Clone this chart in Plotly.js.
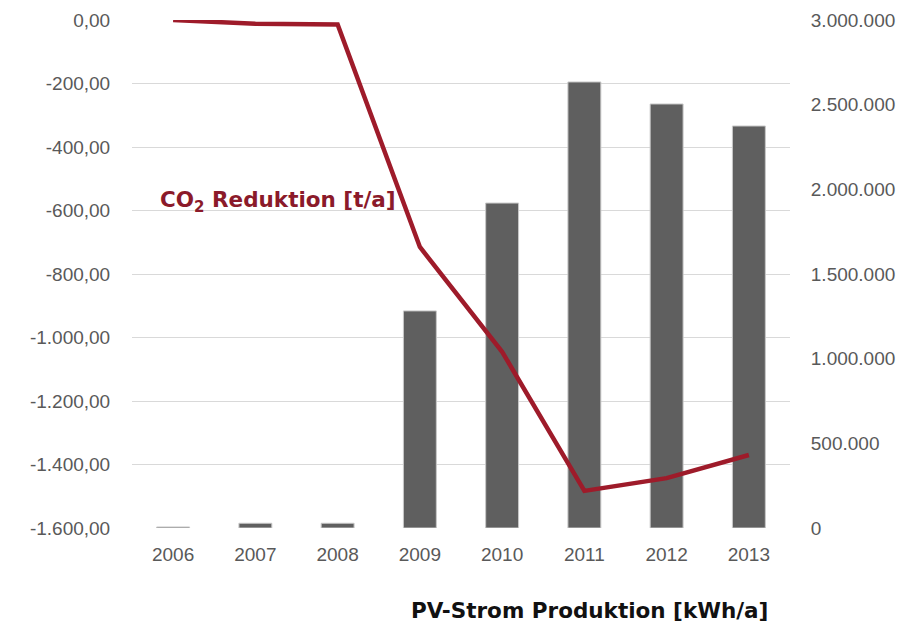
<!DOCTYPE html>
<html>
<head>
<meta charset="utf-8">
<script src="https://cdn.plot.ly/plotly-3.0.1.min.js"></script>
<style>html,body{margin:0;padding:0;background:#fff;}#chart{width:922px;height:628px;}</style>
</head>
<body>
<div id="chart"></div>
<script>
var years = ['2006','2007','2008','2009','2010','2011','2012','2013'];
var pvProduction = [6000, 28000, 28000, 1282000, 1919000, 2634000, 2504000, 2374000];
var co2Reduction = [0, -12, -14, -715, -1045, -1483, -1443, -1370];
var leftTicks = [0, -200, -400, -600, -800, -1000, -1200, -1400, -1600];
var leftTickLabels = ['0,00', '-200,00', '-400,00', '-600,00', '-800,00', '-1.000,00', '-1.200,00', '-1.400,00', '-1.600,00'];
var rightTicks = [0, 500000, 1000000, 1500000, 2000000, 2500000, 3000000];
var rightTickLabels = ['0', '500.000', '1.000.000', '1.500.000', '2.000.000', '2.500.000', '3.000.000'];

var tickFont = {family: 'Liberation Sans, Arial, sans-serif', size: 19, color: '#595959'};

var traces = [
  {
    type: 'bar', x: years, y: pvProduction, yaxis: 'y', name: 'PV-Strom Produktion',
    marker: {color: '#5f5f5f', line: {color: '#c8c8c8', width: 1}}
  },
  {
    type: 'scatter', mode: 'lines', x: years, y: co2Reduction, yaxis: 'y2', name: 'CO2 Reduktion',
    line: {color: '#9e1b2a', width: 4.5, shape: 'linear'}
  }
];

var layout = {
  width: 922, height: 628,
  margin: {l: 132, r: 132, t: 20, b: 100},
  paper_bgcolor: '#ffffff', plot_bgcolor: 'rgba(0,0,0,0)',
  showlegend: false,
  bargap: 0.6,
  xaxis: {
    type: 'category', tickfont: tickFont, showgrid: false, zeroline: false, showline: false,
    ticks: 'outside', ticklen: 9, tickcolor: 'rgba(0,0,0,0)'
  },
  yaxis: {
    range: [0, 3000000], tickvals: rightTicks, ticktext: rightTickLabels, tickfont: tickFont,
    side: 'right', showgrid: false, zeroline: false, showline: false,
    ticks: 'outside', ticklen: 16, tickcolor: 'rgba(0,0,0,0)'
  },
  yaxis2: {
    range: [-1600, 0], tickvals: leftTicks, ticktext: leftTickLabels, tickfont: tickFont,
    overlaying: 'y', side: 'left',
    showgrid: true, gridcolor: '#d9d9d9', gridwidth: 1, zeroline: false, showline: false,
    ticks: 'outside', ticklen: 17, tickcolor: 'rgba(0,0,0,0)'
  },
  annotations: [
    {
      text: 'CO<sub>2</sub> Reduktion [t/a]', xref: 'paper', yref: 'paper',
      x: (158 - 132) / 658, y: (528 - 201) / 508, xanchor: 'left', yanchor: 'middle', showarrow: false,
      font: {family: 'DejaVu Sans, sans-serif', size: 21.5, color: '#8b1a2a', weight: 'bold'}
    },
    {
      text: 'PV-Strom Produktion [kWh/a]', xref: 'paper', yref: 'paper',
      x: (770 - 132) / 658, y: -(610 - 528) / 508, xanchor: 'right', yanchor: 'middle', showarrow: false,
      font: {family: 'DejaVu Sans, sans-serif', size: 21.5, color: '#111111', weight: 'bold'}
    }
  ]
};

Plotly.newPlot('chart', traces, layout, {displayModeBar: false, staticPlot: true});
</script>
</body>
</html>
